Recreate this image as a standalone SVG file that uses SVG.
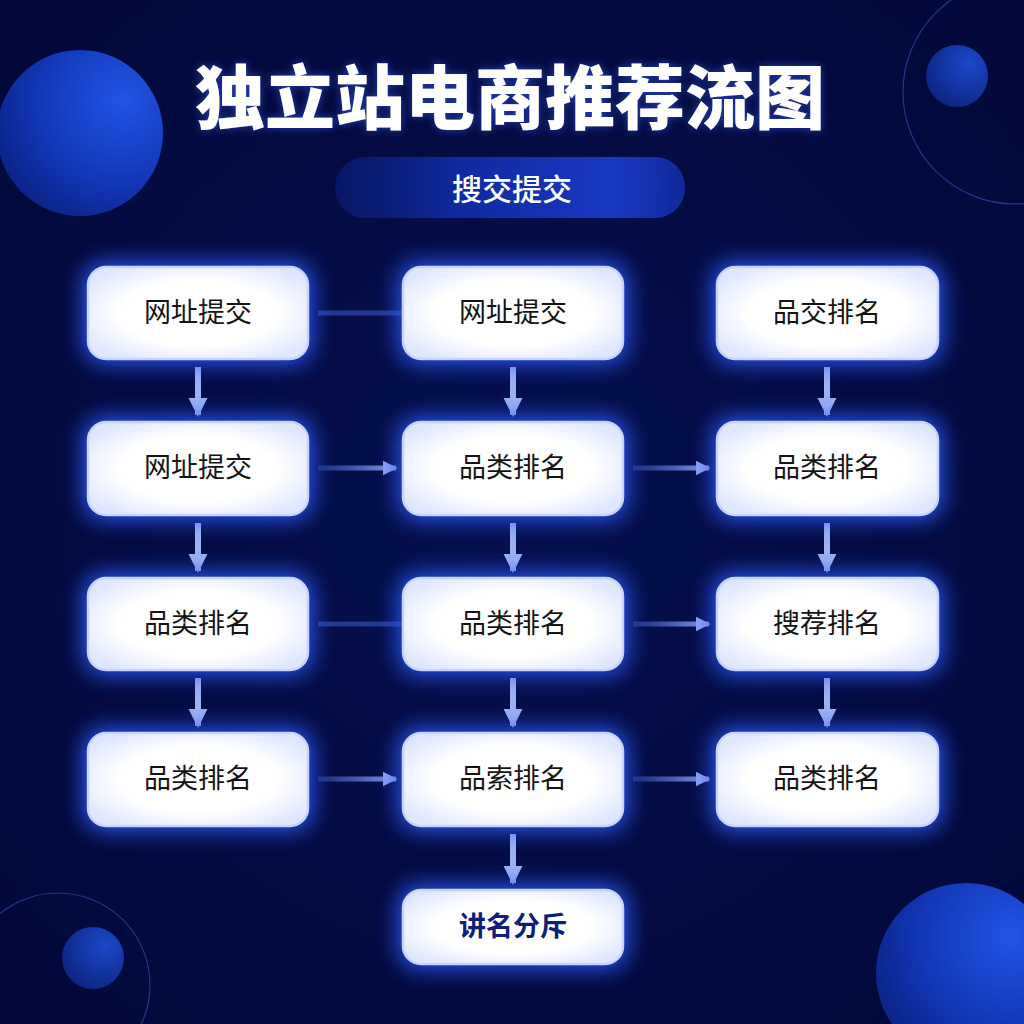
<svg xmlns="http://www.w3.org/2000/svg" width="1024" height="1024" viewBox="0 0 1024 1024">
<defs>
<radialGradient id="bg" cx="50%" cy="50%" r="70%">
<stop offset="0" stop-color="#05104f"/>
<stop offset="1" stop-color="#020838"/>
</radialGradient>
<radialGradient id="ball" cx="75%" cy="30%" r="85%">
<stop offset="0" stop-color="#2255e4"/>
<stop offset="0.6" stop-color="#1136b6"/>
<stop offset="1" stop-color="#0a2282"/>
</radialGradient>
<radialGradient id="ballSm" cx="70%" cy="30%" r="80%">
<stop offset="0" stop-color="#1c47c8"/>
<stop offset="1" stop-color="#0b2480"/>
</radialGradient>
<linearGradient id="pill" x1="0" y1="0" x2="1" y2="0">
<stop offset="0" stop-color="#0a1c78" stop-opacity="0.6"/>
<stop offset="0.35" stop-color="#0f2a9e"/>
<stop offset="0.8" stop-color="#1838c4"/>
<stop offset="1" stop-color="#1230b0" stop-opacity="0.8"/>
</linearGradient>
<linearGradient id="hA" gradientUnits="userSpaceOnUse" x1="318" y1="0" x2="396" y2="0">
<stop offset="0" stop-color="#4a68d8" stop-opacity="0.35"/>
<stop offset="1" stop-color="#8aa2f0" stop-opacity="0.95"/>
</linearGradient>
<linearGradient id="hB" gradientUnits="userSpaceOnUse" x1="633" y1="0" x2="709" y2="0">
<stop offset="0" stop-color="#4a68d8" stop-opacity="0.35"/>
<stop offset="1" stop-color="#8aa2f0" stop-opacity="0.95"/>
</linearGradient>
<radialGradient id="boxFill" cx="50%" cy="50%" r="60%">
<stop offset="0.6" stop-color="#ffffff"/>
<stop offset="1" stop-color="#dfe7ff"/>
</radialGradient>
<filter id="glow" x="-30%" y="-50%" width="160%" height="200%">
<feGaussianBlur stdDeviation="11"/>
</filter>
<filter id="tglow" x="-10%" y="-30%" width="120%" height="160%">
<feGaussianBlur in="SourceAlpha" stdDeviation="4" result="b"/>
<feFlood flood-color="#3a5cff" flood-opacity="0.6"/>
<feComposite in2="b" operator="in" result="g"/>
<feMerge><feMergeNode in="g"/><feMergeNode in="SourceGraphic"/></feMerge>
</filter>
<marker id="ah" viewBox="0 0 10 10" refX="9" refY="5" markerWidth="3.2" markerHeight="3.2" orient="auto" markerUnits="strokeWidth">
<path d="M0,0 L10,5 L0,10 Z" fill="#9db2f2"/>
</marker>
<marker id="ahh" viewBox="0 0 10 10" refX="9" refY="5" markerWidth="3" markerHeight="3.6" orient="auto" markerUnits="strokeWidth">
<path d="M0,0 L10,5 L0,10 Z" fill="#8aa2f0"/>
</marker>
</defs>
<style>
.halo{fill:#2a5cff;opacity:1}
.box{fill:url(#boxFill);stroke:#c8d4ff;stroke-width:2.5}
.lbl{font-family:"Noto Sans CJK SC","Noto Sans",sans-serif;font-size:27px;fill:#141414;text-anchor:middle}
.v{stroke:#9db2f2;stroke-width:6;fill:none;marker-end:url(#ah)}
.ha{stroke:url(#hA);stroke-width:5;fill:none;marker-end:url(#ahh)}
.hb{stroke:url(#hB);stroke-width:5;fill:none;marker-end:url(#ahh)}
.hn{stroke:#3e5cc8;stroke-width:5;fill:none;opacity:0.55}
</style>
<rect width="1024" height="1024" fill="url(#bg)"/>
<!-- decorations -->
<circle cx="80" cy="133" r="83" fill="url(#ball)"/>
<circle cx="1015" cy="92" r="112" fill="none" stroke="#24368a" stroke-width="1.2"/>
<circle cx="957" cy="76" r="31" fill="url(#ballSm)"/>
<circle cx="58" cy="985" r="92" fill="none" stroke="#24368a" stroke-width="1.2"/>
<circle cx="93" cy="958" r="31" fill="url(#ballSm)"/>
<circle cx="966" cy="973" r="90" fill="url(#ball)"/>
<!-- title -->
<text x="510" y="124" text-anchor="middle" font-family="Noto Sans CJK SC, sans-serif" font-weight="900" font-size="70" fill="#ffffff" filter="url(#tglow)">独立站电商推荐流图</text>
<g id="subtitle">
<rect x="335" y="157" width="350" height="61" rx="30" fill="url(#pill)"/>
<text x="512" y="200" text-anchor="middle" font-family="Noto Sans CJK SC, sans-serif" font-weight="500" font-size="30" fill="#ffffff">搜交提交</text>
</g>
<!-- connectors -->
<g id="connectors">
<line class="hn" x1="318" y1="313" x2="402" y2="313"/>
<line class="hn" x1="318" y1="624" x2="402" y2="624"/>
<line class="ha" x1="318" y1="468" x2="396" y2="468"/>
<line class="hb" x1="633" y1="468" x2="709" y2="468"/>
<line class="hb" x1="633" y1="624" x2="709" y2="624"/>
<line class="ha" x1="318" y1="779" x2="396" y2="779"/>
<line class="hb" x1="633" y1="779" x2="709" y2="779"/>
<line class="v" x1="198" y1="367" x2="198" y2="415"/>
<line class="v" x1="198" y1="523" x2="198" y2="571"/>
<line class="v" x1="198" y1="678" x2="198" y2="726"/>
<line class="v" x1="513" y1="367" x2="513" y2="415"/>
<line class="v" x1="513" y1="523" x2="513" y2="571"/>
<line class="v" x1="513" y1="678" x2="513" y2="726"/>
<line class="v" x1="513" y1="834" x2="513" y2="883"/>
<line class="v" x1="827" y1="367" x2="827" y2="415"/>
<line class="v" x1="827" y1="523" x2="827" y2="571"/>
<line class="v" x1="827" y1="678" x2="827" y2="726"/>
</g>
<!-- nodes -->
<g id="n11"><rect class="halo" x="84" y="263" width="228" height="100" rx="20" filter="url(#glow)"/><rect class="box" x="88" y="267" width="220" height="92" rx="18"/><text class="lbl" x="198" y="322">网址提交</text></g>
<g id="n12"><rect class="halo" x="399" y="263" width="228" height="100" rx="20" filter="url(#glow)"/><rect class="box" x="403" y="267" width="220" height="92" rx="18"/><text class="lbl" x="513" y="322">网址提交</text></g>
<g id="n13"><rect class="halo" x="713" y="263" width="229" height="100" rx="20" filter="url(#glow)"/><rect class="box" x="717" y="267" width="221" height="92" rx="18"/><text class="lbl" x="827" y="322">品交排名</text></g>
<g id="n21"><rect class="halo" x="84" y="418" width="228" height="101" rx="20" filter="url(#glow)"/><rect class="box" x="88" y="422" width="220" height="93" rx="18"/><text class="lbl" x="198" y="477">网址提交</text></g>
<g id="n22"><rect class="halo" x="399" y="418" width="228" height="101" rx="20" filter="url(#glow)"/><rect class="box" x="403" y="422" width="220" height="93" rx="18"/><text class="lbl" x="513" y="477">品类排名</text></g>
<g id="n23"><rect class="halo" x="713" y="418" width="229" height="101" rx="20" filter="url(#glow)"/><rect class="box" x="717" y="422" width="221" height="93" rx="18"/><text class="lbl" x="827" y="477">品类排名</text></g>
<g id="n31"><rect class="halo" x="84" y="574" width="228" height="100" rx="20" filter="url(#glow)"/><rect class="box" x="88" y="578" width="220" height="92" rx="18"/><text class="lbl" x="198" y="633">品类排名</text></g>
<g id="n32"><rect class="halo" x="399" y="574" width="228" height="100" rx="20" filter="url(#glow)"/><rect class="box" x="403" y="578" width="220" height="92" rx="18"/><text class="lbl" x="513" y="633">品类排名</text></g>
<g id="n33"><rect class="halo" x="713" y="574" width="229" height="100" rx="20" filter="url(#glow)"/><rect class="box" x="717" y="578" width="221" height="92" rx="18"/><text class="lbl" x="827" y="633">搜荐排名</text></g>
<g id="n41"><rect class="halo" x="84" y="729" width="228" height="101" rx="20" filter="url(#glow)"/><rect class="box" x="88" y="733" width="220" height="93" rx="18"/><text class="lbl" x="198" y="788">品类排名</text></g>
<g id="n42"><rect class="halo" x="399" y="729" width="228" height="101" rx="20" filter="url(#glow)"/><rect class="box" x="403" y="733" width="220" height="93" rx="18"/><text class="lbl" x="513" y="788">品索排名</text></g>
<g id="n43"><rect class="halo" x="713" y="729" width="229" height="101" rx="20" filter="url(#glow)"/><rect class="box" x="717" y="733" width="221" height="93" rx="18"/><text class="lbl" x="827" y="788">品类排名</text></g>
<g id="n5"><rect class="halo" x="399" y="886" width="228" height="82" rx="20" filter="url(#glow)"/><rect class="box" x="403" y="890" width="220" height="74" rx="18"/><text class="lbl" x="513" y="936" style="fill:#0c1f7a;font-weight:700">讲名分斥</text></g>
</svg>
